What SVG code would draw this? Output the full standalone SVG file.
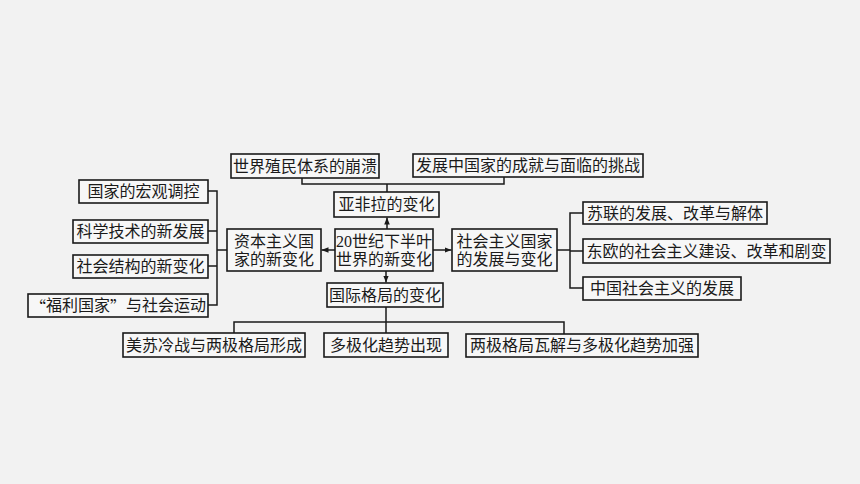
<svg xmlns="http://www.w3.org/2000/svg" width="860" height="484" viewBox="0 0 860 484">
<style>
.b{fill:#f7f7f7;stroke:#1a1a1a;stroke-width:1.6}
.t{font-family:"Liberation Serif","Noto Sans CJK SC",serif;font-size:16px;fill:#1a1a1a;text-anchor:middle;dominant-baseline:central}
.q{font-family:"Noto Sans CJK SC",sans-serif;font-feature-settings:"fwid"}
.c{fill:none;stroke:#1a1a1a;stroke-width:1.5}
</style>
<defs>
<marker id="ah" viewBox="0 0 10 10" refX="10" refY="5" markerWidth="7" markerHeight="7" markerUnits="userSpaceOnUse" orient="auto">
<path d="M0,1 L10,5 L0,9 Z" fill="#1a1a1a"/>
</marker>
</defs>
<rect width="860" height="484" fill="#f2f2f2"/>
<g id="connectors">
<path class="c" d="M302,178 V184 H504 V177 M387,184 V192"/>
<path class="c" d="M387,229 V217.5" marker-end="url(#ah)"/>
<path class="c" d="M335,250 H321.5" marker-end="url(#ah)"/>
<path class="c" d="M433,250 H451.5" marker-end="url(#ah)"/>
<path class="c" d="M386,271 V282.5" marker-end="url(#ah)"/>
<path class="c" d="M227,250 H217 M208,191 H217 V305 H208 M208,231 H217 M208,266 H217"/>
<path class="c" d="M557,250 H570 M583,213 H570 V288 H583 M570,251 H583"/>
<path class="c" d="M386,307 V333 M234,333 V322 H564 V334"/>
</g>
<g id="n_colony"><rect class="b" x="231" y="154" width="148" height="24"/><text class="t" x="305" y="166">世界殖民体系的崩溃</text></g>
<g id="n_developing"><rect class="b" x="413" y="154" width="230" height="23"/><text class="t" x="528" y="165.5">发展中国家的成就与面临的挑战</text></g>
<g id="n_afro"><rect class="b" x="334" y="192" width="105" height="25"/><text class="t" x="386.5" y="204.5">亚非拉的变化</text></g>
<g id="n_capitalist"><rect class="b" x="227" y="229" width="94" height="42"/><text class="t" x="274" y="241">资本主义国</text><text class="t" x="274" y="259.5">家的新变化</text></g>
<g id="n_center"><rect class="b" x="335" y="229" width="98" height="42"/><text class="t" x="384" y="241">20世纪下半叶</text><text class="t" x="384" y="259.5">世界的新变化</text></g>
<g id="n_socialist"><rect class="b" x="452" y="229" width="105" height="42"/><text class="t" x="504.5" y="241">社会主义国家</text><text class="t" x="504.5" y="259.5">的发展与变化</text></g>
<g id="n_intl"><rect class="b" x="327" y="283" width="116" height="24"/><text class="t" x="385" y="295">国际格局的变化</text></g>
<g id="n_macro"><rect class="b" x="79" y="180" width="129" height="23"/><text class="t" x="143.5" y="191.5">国家的宏观调控</text></g>
<g id="n_tech"><rect class="b" x="73" y="220" width="135" height="23"/><text class="t" x="140.5" y="231.5">科学技术的新发展</text></g>
<g id="n_society"><rect class="b" x="73" y="255" width="135" height="23"/><text class="t" x="140.5" y="266.5">社会结构的新变化</text></g>
<g id="n_welfare"><rect class="b" x="28" y="294" width="180" height="23"/><text class="t" x="118" y="305.5"><tspan class="q">“</tspan>福利国家<tspan class="q">”</tspan>与社会运动</text></g>
<g id="n_ussr"><rect class="b" x="583" y="202" width="184" height="22"/><text class="t" x="675" y="213">苏联的发展、改革与解体</text></g>
<g id="n_east"><rect class="b" x="583" y="239" width="247" height="24"/><text class="t" x="706.5" y="251">东欧的社会主义建设、改革和剧变</text></g>
<g id="n_china"><rect class="b" x="583" y="277" width="158" height="23"/><text class="t" x="662" y="288.5">中国社会主义的发展</text></g>
<g id="n_cold"><rect class="b" x="123" y="333" width="182" height="24"/><text class="t" x="214" y="345">美苏冷战与两极格局形成</text></g>
<g id="n_multi"><rect class="b" x="324" y="333" width="124" height="24"/><text class="t" x="386" y="345">多极化趋势出现</text></g>
<g id="n_collapse"><rect class="b" x="466" y="334" width="232" height="23"/><text class="t" x="582" y="345.5">两极格局瓦解与多极化趋势加强</text></g>
</svg>
